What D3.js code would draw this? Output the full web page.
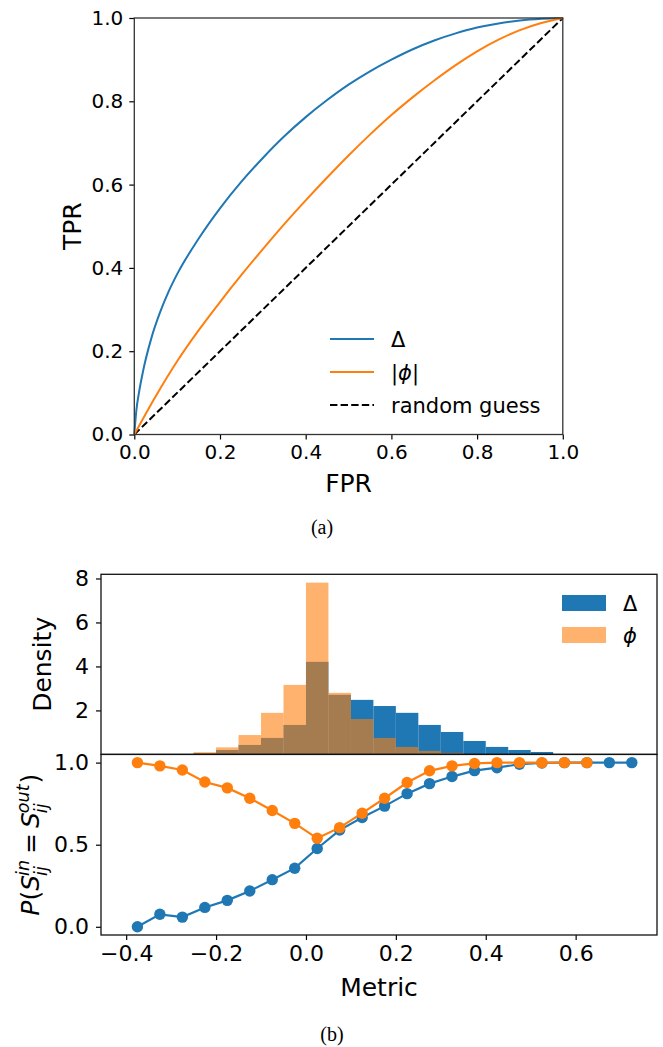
<!DOCTYPE html>
<html>
<head>
<meta charset="utf-8">
<script src="https://cdn.jsdelivr.net/npm/d3@7"></script>
<style>
  html, body { margin: 0; padding: 0; background: #fff; }
  svg { display: block; }
  text { fill: #000; }
</style>
</head>
<body>
<script>
// ---------- (a) ROC curves ----------
const rocDeltaFPR = [0, 0.005, 0.01, 0.02, 0.04, 0.06, 0.08, 0.1, 0.15, 0.2, 0.25, 0.3, 0.35, 0.4, 0.45, 0.5, 0.55, 0.6, 0.65, 0.7, 0.75, 0.8, 0.85, 0.9, 0.95, 1.0];
const rocDeltaTPR = [0, 0.06, 0.095, 0.15, 0.232, 0.293, 0.343, 0.385, 0.47, 0.543, 0.607, 0.664, 0.716, 0.762, 0.803, 0.84, 0.872, 0.9, 0.925, 0.946, 0.963, 0.977, 0.987, 0.994, 0.998, 1.0];
const rocPhiFPR = [0, 0.05, 0.1, 0.15, 0.2, 0.25, 0.3, 0.35, 0.4, 0.45, 0.5, 0.55, 0.6, 0.65, 0.7, 0.75, 0.8, 0.85, 0.9, 0.95, 1.0];
const rocPhiTPR = [0, 0.092, 0.176, 0.25, 0.318, 0.383, 0.445, 0.505, 0.562, 0.617, 0.67, 0.72, 0.767, 0.81, 0.85, 0.887, 0.92, 0.948, 0.971, 0.988, 1.0];
const randomGuess = [0, 1];
const rocTicks = [0, 0.2, 0.4, 0.6, 0.8, 1.0];

// ---------- (b) histograms ----------
const histBinStart = [-0.25, -0.2, -0.15, -0.1, -0.05, 0.0, 0.05, 0.1, 0.15, 0.2, 0.25, 0.3, 0.35, 0.4, 0.45, 0.5];
const histBinWidth = 0.05;
const histDelta = [0.05, 0.2, 0.43, 0.75, 1.34, 4.21, 2.71, 2.48, 2.2, 1.89, 1.34, 1.02, 0.61, 0.34, 0.2, 0.11];
const histPhi = [0.1, 0.32, 0.88, 1.89, 3.16, 7.81, 2.80, 1.61, 0.75, 0.34, 0.16, 0.07, 0, 0, 0, 0];
const densityTicks = [2, 4, 6, 8];

// ---------- (b) probability that in/out signs agree ----------
const metricDelta = [-0.375, -0.325, -0.275, -0.225, -0.175, -0.125, -0.075, -0.025, 0.025, 0.075, 0.125, 0.175, 0.225, 0.275, 0.325, 0.375, 0.425, 0.475, 0.525, 0.575, 0.625, 0.675, 0.725];
const probDelta = [0.0, 0.076, 0.059, 0.118, 0.161, 0.218, 0.287, 0.357, 0.477, 0.589, 0.666, 0.735, 0.811, 0.872, 0.915, 0.951, 0.969, 0.99, 0.998, 1.0, 1.0, 1.0, 1.0];
const metricPhi = [-0.375, -0.325, -0.275, -0.225, -0.175, -0.125, -0.075, -0.025, 0.025, 0.075, 0.125, 0.175, 0.225, 0.275, 0.325, 0.375, 0.425, 0.475, 0.525, 0.575, 0.625];
const probPhi = [1.0, 0.98, 0.955, 0.882, 0.846, 0.783, 0.708, 0.63, 0.539, 0.604, 0.692, 0.783, 0.879, 0.95, 0.98, 0.995, 1.0, 1.0, 1.0, 1.0, 1.0];
const metricTicks = [-0.4, -0.2, 0.0, 0.2, 0.4, 0.6];
const probTicks = [0.0, 0.5, 1.0];

const BLUE = "#1f77b4", ORANGE = "#ff7f0e";
const SANS = "DejaVu Sans, sans-serif";
const SERIF = "Liberation Serif, DejaVu Serif, serif";

const W = 663, H = 1047;
const svg = d3.select("body").append("svg").attr("width", W).attr("height", H)
  .style("font-family", SANS);
svg.append("rect").attr("width", W).attr("height", H).attr("fill", "#fff");

function styleAxis(g, fontSize) {
  g.select(".domain").remove();
  g.selectAll(".tick line").attr("stroke", "#000").attr("stroke-width", 1.2);
  g.selectAll(".tick text")
    .style("font-family", SANS)
    .attr("font-size", fontSize).attr("fill", "#000");
}

// ================= (a) =================
const ax = d3.scaleLinear([0, 1], [134.3, 562.8]);
const ay = d3.scaleLinear([0, 1], [434.5, 18]);
const gA = svg.append("g");

const lineA = d3.line().x(d => ax(d[0])).y(d => ay(d[1])).curve(d3.curveMonotoneX);

gA.append("path")
  .datum(d3.zip(randomGuess, randomGuess))
  .attr("d", d3.line().x(d => ax(d[0])).y(d => ay(d[1])))
  .attr("fill", "none").attr("stroke", "#000").attr("stroke-width", 2)
  .attr("stroke-dasharray", "7.4,3.2");
gA.append("path")
  .datum(d3.zip(rocDeltaFPR, rocDeltaTPR))
  .attr("d", lineA).attr("fill", "none").attr("stroke", BLUE).attr("stroke-width", 2);
gA.append("path")
  .datum(d3.zip(rocPhiFPR, rocPhiTPR))
  .attr("d", lineA).attr("fill", "none").attr("stroke", ORANGE).attr("stroke-width", 2);

gA.append("g").attr("transform", `translate(0,${ay(0)})`)
  .call(d3.axisBottom(ax).tickValues(rocTicks).tickFormat(d3.format(".1f")).tickSize(5).tickPadding(5))
  .call(g => styleAxis(g, 20));
gA.append("g").attr("transform", `translate(${ax(0)},0)`)
  .call(d3.axisLeft(ay).tickValues(rocTicks).tickFormat(d3.format(".1f")).tickSize(5).tickPadding(6))
  .call(g => styleAxis(g, 20));

gA.append("rect")
  .attr("x", ax(0)).attr("y", ay(1))
  .attr("width", ax(1) - ax(0)).attr("height", ay(0) - ay(1))
  .attr("fill", "none").attr("stroke", "#333").attr("stroke-width", 1.3);

gA.append("text").attr("x", (ax(0) + ax(1)) / 2).attr("y", 492)
  .attr("text-anchor", "middle").attr("font-size", 25).text("FPR");
gA.append("text").attr("transform", `translate(80.5,${(ay(0) + ay(1)) / 2}) rotate(-90)`)
  .attr("text-anchor", "middle").attr("font-size", 25).text("TPR");

// legend
const legA = gA.append("g");
const legItems = [
  { color: BLUE, dash: null, label: [{ t: "Δ" }] },
  { color: ORANGE, dash: null, label: [{ t: "|" }, { t: "ϕ", it: true }, { t: "|" }] },
  { color: "#000", dash: "7.4,3.2", label: [{ t: "random guess" }] }
];
legItems.forEach((it, i) => {
  const yy = 339 + i * 33;
  legA.append("line").attr("x1", 330).attr("x2", 374).attr("y1", yy).attr("y2", yy)
    .attr("stroke", it.color).attr("stroke-width", 2)
    .attr("stroke-dasharray", it.dash);
  const t = legA.append("text").attr("x", 391).attr("y", yy + 7.5).attr("font-size", 21);
  it.label.forEach(p => t.append("tspan").attr("font-style", p.it ? "italic" : null).text(p.t));
});

svg.append("text").attr("x", 322).attr("y", 534).attr("text-anchor", "middle")
  .style("font-family", SERIF).attr("font-size", 20).text("(a)");

// ================= (b) =================
const bx = d3.scaleLinear([-0.456, 0.781], [101, 657]);
const hy = d3.scaleLinear([0, 8.19], [754.4, 574.3]);
const py = d3.scaleLinear([-0.05, 1.05], [935, 754.4]);
const gB = svg.append("g");

// histogram bars: Δ opaque, ϕ translucent on top
gB.append("g").selectAll("rect").data(d3.zip(histBinStart, histDelta)).join("rect")
  .attr("x", d => bx(d[0])).attr("width", d => bx(d[0] + histBinWidth) - bx(d[0]))
  .attr("y", d => hy(d[1])).attr("height", d => hy(0) - hy(d[1]))
  .attr("fill", BLUE);
gB.append("g").selectAll("rect").data(d3.zip(histBinStart, histPhi)).join("rect")
  .attr("x", d => bx(d[0])).attr("width", d => bx(d[0] + histBinWidth) - bx(d[0]))
  .attr("y", d => hy(d[1])).attr("height", d => hy(0) - hy(d[1]))
  .attr("fill", ORANGE).attr("fill-opacity", 0.6);

gB.append("g").attr("transform", `translate(${bx.range()[0]},0)`)
  .call(d3.axisLeft(hy).tickValues(densityTicks).tickFormat(d3.format("d")).tickSize(5).tickPadding(7))
  .call(g => styleAxis(g, 22));

// probability lines with markers
const lineB = d3.line().x(d => bx(d[0])).y(d => py(d[1]));
[[metricDelta, probDelta, BLUE], [metricPhi, probPhi, ORANGE]].forEach(([xs, ys, c]) => {
  const pts = d3.zip(xs, ys);
  gB.append("path").datum(pts).attr("d", lineB)
    .attr("fill", "none").attr("stroke", c).attr("stroke-width", 2.2);
  gB.append("g").selectAll("circle").data(pts).join("circle")
    .attr("cx", d => bx(d[0])).attr("cy", d => py(d[1])).attr("r", 5.7).attr("fill", c);
});

gB.append("g").attr("transform", `translate(0,${py.range()[0]})`)
  .call(d3.axisBottom(bx).tickValues(metricTicks).tickFormat(d3.format(".1f")).tickSize(5).tickPadding(5))
  .call(g => styleAxis(g, 22));
gB.append("g").attr("transform", `translate(${bx.range()[0]},0)`)
  .call(d3.axisLeft(py).tickValues(probTicks).tickFormat(d3.format(".1f")).tickSize(5).tickPadding(7))
  .call(g => styleAxis(g, 22));

// frames of the two stacked panels
[[hy.range()[1], hy.range()[0]], [py.range()[1], py.range()[0]]].forEach(([top, bot]) => {
  gB.append("rect").attr("x", bx.range()[0]).attr("y", top)
    .attr("width", bx.range()[1] - bx.range()[0]).attr("height", bot - top)
    .attr("fill", "none").attr("stroke", "#111").attr("stroke-width", 1.3);
});

// histogram legend
const legB = gB.append("g");
[[BLUE, 1, "Δ", false], [ORANGE, 0.6, "ϕ", true]].forEach(([c, op, lab, it], i) => {
  const yy = 603 + i * 32;
  legB.append("rect").attr("x", 562).attr("y", yy - 8).attr("width", 44).attr("height", 16)
    .attr("fill", c).attr("fill-opacity", op);
  legB.append("text").attr("x", 623).attr("y", yy + 7.5).attr("font-size", 21)
    .attr("font-style", it ? "italic" : null).text(lab);
});

// axis labels
gB.append("text").attr("x", (bx.range()[0] + bx.range()[1]) / 2).attr("y", 996)
  .attr("text-anchor", "middle").attr("font-size", 25).text("Metric");
gB.append("text").attr("transform", `translate(51,${(hy.range()[0] + hy.range()[1]) / 2}) rotate(-90)`)
  .attr("text-anchor", "middle").attr("font-size", 25).text("Density");

// P(S_ij^in = S_ij^out), laid out piece by piece
(function () {
  const fs = 25, sm = 17.5;
  const g = gB.append("g").attr("transform", `translate(39,${(py.range()[0] + py.range()[1]) / 2}) rotate(-90)`);
  const inner = g.append("g");
  let x = 0;
  function piece(t, size, italic, dy) {
    const el = inner.append("text").attr("x", x).attr("y", dy).attr("font-size", size)
      .attr("font-style", italic ? "italic" : null).text(t);
    return el.node().getComputedTextLength();
  }
  function run(t, italic, gapAfter = 0) { x += piece(t, fs, italic, 0) + gapAfter; }
  function scripts(sub, sup) {
    const a = piece(sub, sm, true, 0.3 * fs);
    const b = piece(sup, sm, true, -0.42 * fs);
    x += Math.max(a, b) + 1;
  }
  run("P", true); run("(", false); run("S", true, -1); scripts("ij", "in");
  x += 5; run("=", false); x += 5;
  run("S", true, -1); scripts("ij", "out"); run(")", false);
  inner.attr("transform", `translate(${-x / 2},0)`);
})();

svg.append("text").attr("x", 332).attr("y", 1041).attr("text-anchor", "middle")
  .style("font-family", SERIF).attr("font-size", 20).text("(b)");
</script>
</body>
</html>
